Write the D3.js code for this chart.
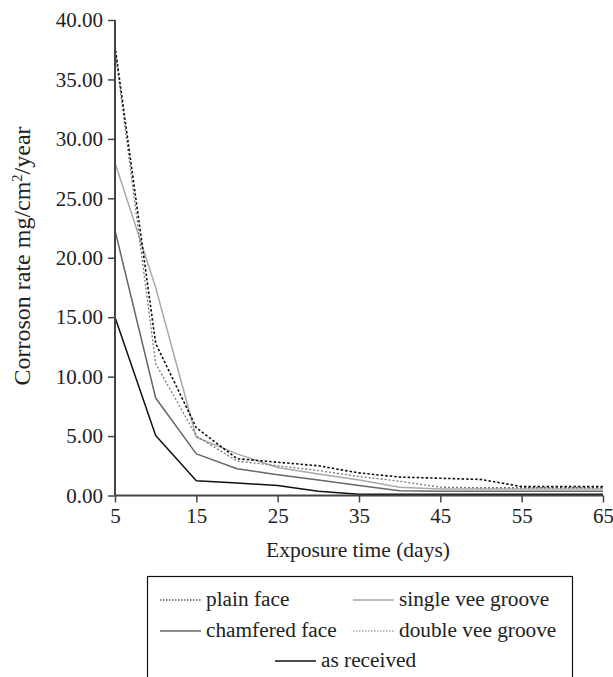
<!DOCTYPE html>
<html>
<head>
<meta charset="utf-8">
<script src="https://cdn.jsdelivr.net/npm/d3@7"></script>
<style>
  html, body { margin: 0; padding: 0; background: #fff; }
  svg { display: block; }
  text { font-family: "Liberation Serif", "DejaVu Serif", serif; fill: #222; }
</style>
</head>
<body>
<svg id="chart" width="613" height="677"></svg>
<script>
const days = [5, 10, 15, 20, 25, 30, 35, 40, 45, 50, 55, 60, 65];
const plainFace = [37.8, 12.8, 5.7, 3.1, 2.8, 2.5, 1.9, 1.55, 1.45, 1.35, 0.75, 0.75, 0.75];
const singleVee = [28.0, 17.5, 4.9, 3.5, 2.35, 1.8, 1.3, 0.7, 0.55, 0.55, 0.55, 0.55, 0.55];
const chamfered = [22.3, 8.2, 3.5, 2.25, 1.75, 1.3, 0.85, 0.4, 0.35, 0.35, 0.35, 0.35, 0.35];
const doubleVee = [37.5, 11.1, 5.0, 2.9, 2.5, 2.1, 1.6, 1.2, 0.7, 0.65, 0.65, 0.65, 0.65];
const asReceived = [15.0, 5.05, 1.25, 1.05, 0.85, 0.35, 0.1, 0.1, 0.1, 0.1, 0.1, 0.1, 0.1];
const xTicks = [5, 15, 25, 35, 45, 55, 65];
const yTicks = [0, 5, 10, 15, 20, 25, 30, 35, 40];

const series = [
  { name: "plain face", values: plainFace, color: "#111", width: 1.6, dash: "2.5,2" },
  { name: "single vee groove", values: singleVee, color: "#aaa", width: 1.5, dash: null },
  { name: "chamfered face", values: chamfered, color: "#666", width: 1.5, dash: null },
  { name: "double vee groove", values: doubleVee, color: "#777", width: 1.3, dash: "2,2" },
  { name: "as received", values: asReceived, color: "#111", width: 1.5, dash: null }
];

const svg = d3.select("#chart");
const x = d3.scaleLinear().domain([5, 65]).range([115, 603]);
const y = d3.scaleLinear().domain([0, 40]).range([495.5, 20]);

// lines
const line = d3.line().x((d, i) => x(days[i])).y(d => y(d));
const drawOrder = [4, 2, 1, 3, 0];
drawOrder.forEach(k => {
  const s = series[k];
  svg.append("path")
    .attr("d", line(s.values))
    .attr("fill", "none")
    .attr("stroke", s.color)
    .attr("stroke-width", s.width)
    .attr("stroke-dasharray", s.dash)
    .attr("stroke-linejoin", "round");
});

// axes
const yAxis = d3.axisLeft(y).tickValues(yTicks).tickFormat(d3.format(".2f")).tickSize(7).tickPadding(5);
const gy = svg.append("g").attr("transform", "translate(115,0)").call(yAxis);
const xAxis = d3.axisBottom(x).tickValues(xTicks).tickFormat(d3.format("d")).tickSize(7).tickPadding(6);
const gx = svg.append("g").attr("transform", "translate(0,495.5)").call(xAxis);
[gx, gy].forEach(g => {
  g.select(".domain").attr("stroke", "#444").attr("stroke-width", 2);
  g.selectAll(".tick line").attr("stroke", "#444").attr("stroke-width", 1.5);
  g.selectAll(".tick text").attr("font-size", 21).attr("fill", "#222");
});
gx.select(".domain").attr("d", "M115,0H603");
gy.select(".domain").attr("d", "M0,20V495.5");

// axis titles
svg.append("text")
  .attr("x", 358).attr("y", 557)
  .attr("text-anchor", "middle")
  .attr("font-size", 21.5)
  .text("Exposure time (days)");

const yt = svg.append("text")
  .attr("transform", "translate(30,256) rotate(-90)")
  .attr("text-anchor", "middle")
  .attr("font-size", 24);
yt.append("tspan").text("Corroson rate mg/cm");
yt.append("tspan").attr("font-size", 14.5).attr("dy", -8).text("2");
yt.append("tspan").attr("dy", 8).text("/year");

// legend
const lg = svg.append("g");
lg.append("rect")
  .attr("x", 147.5).attr("y", 576.5).attr("width", 425).attr("height", 120)
  .attr("fill", "none").attr("stroke", "#111").attr("stroke-width", 1.2);

const legendPos = [
  { k: 0, x0: 160, row: 0 },
  { k: 1, x0: 353, row: 0 },
  { k: 2, x0: 160, row: 1 },
  { k: 3, x0: 353, row: 1 },
  { k: 4, x0: 275, row: 2 }
];
const rowY = [600, 631, 661];
legendPos.forEach(p => {
  const s = series[p.k];
  const yy = rowY[p.row];
  lg.append("line")
    .attr("x1", p.x0).attr("x2", p.x0 + 41)
    .attr("y1", yy).attr("y2", yy)
    .attr("stroke", s.color)
    .attr("stroke-width", s.dash ? 1.2 : 1.5)
    .attr("stroke-dasharray", s.dash ? "1.5,1.5" : null);
  lg.append("text")
    .attr("x", p.x0 + 46).attr("y", yy + 6)
    .attr("font-size", 21.3)
    .text(s.name);
});
</script>
</body>
</html>
